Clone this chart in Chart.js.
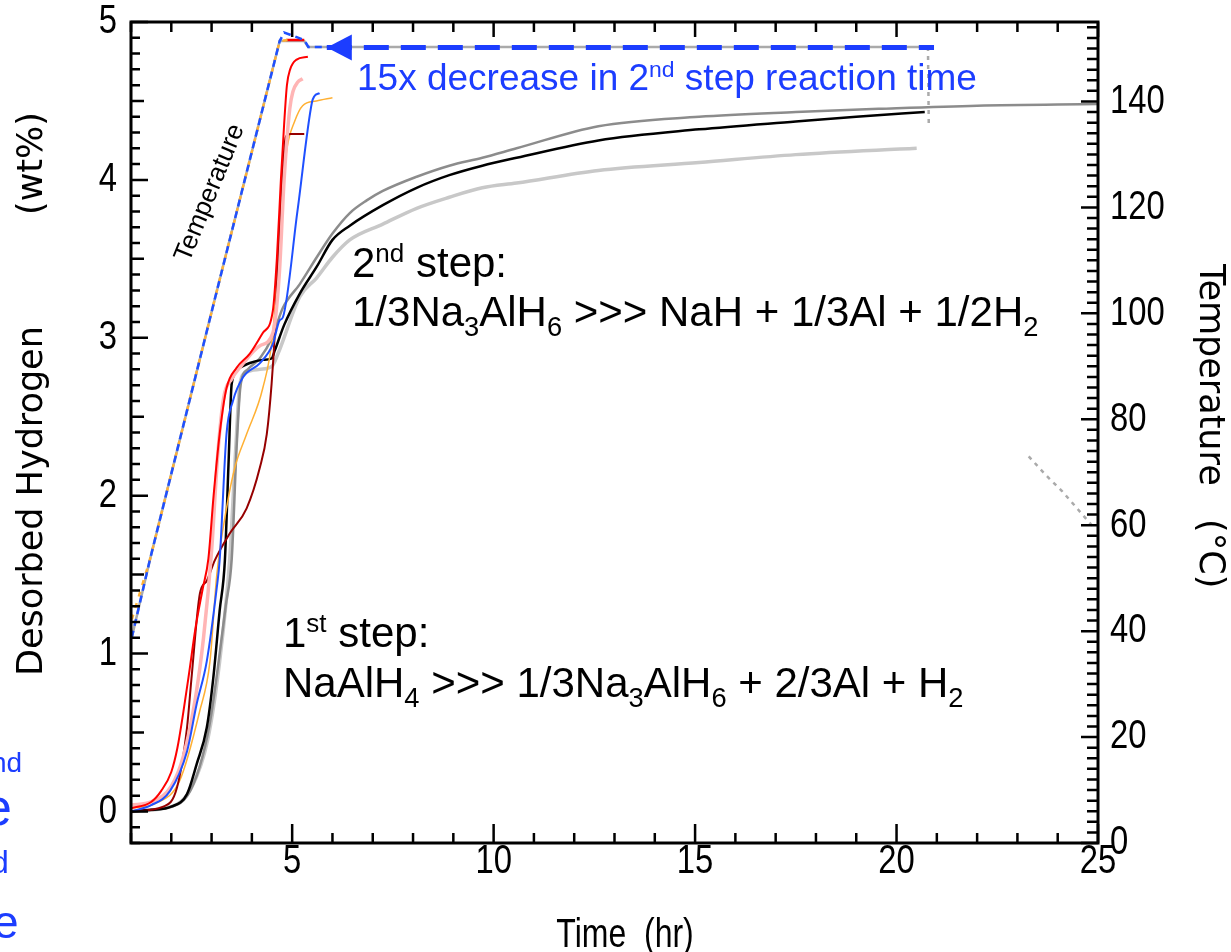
<!DOCTYPE html>
<html>
<head>
<meta charset="utf-8">
<script src="https://cdn.jsdelivr.net/npm/chart.js@4.4.1/dist/chart.umd.min.js"></script>
<style>
  html, body { margin: 0; padding: 0; background: #fff; }
  #chart { display: block; }
</style>
</head>
<body>
<canvas id="chart" width="1231" height="952"></canvas>
<script>
// axis tick labels
var timeTicks = [5, 10, 15, 20, 25];
var h2Ticks = [0, 1, 2, 3, 4, 5];
var tempTicks = [0, 20, 40, 60, 80, 100, 120, 140];

// desorbed hydrogen (wt%) vs time (hr), one pair of arrays per run
var blackTime = [1, 1.5, 2.0, 2.39, 2.63, 2.88, 3.04, 3.2, 3.33, 3.42, 3.5, 3.7, 3.95, 4.27, 4.49, 4.57, 4.8, 5.19, 5.61, 6.0, 6.43, 7.25, 8.09, 8.9, 9.72, 10.57, 12.6, 15.1, 17.5, 19.0, 20.7];
var blackH2 = [0.0, 0.01, 0.03, 0.11, 0.3, 0.53, 0.84, 1.27, 1.59, 2.2, 2.71, 2.81, 2.84, 2.86, 2.87, 2.92, 3.08, 3.28, 3.45, 3.62, 3.71, 3.84, 3.95, 4.03, 4.09, 4.14, 4.25, 4.32, 4.37, 4.4, 4.43];

var grayTime = [1, 2.0, 2.4, 2.7, 2.95, 3.15, 3.35, 3.5, 3.62, 3.72, 3.9, 4.2, 4.5, 4.77, 5.19, 5.61, 6.0, 6.43, 6.85, 7.25, 8.09, 8.9, 9.72, 10.57, 12.6, 15.1, 17.5, 19.56, 22.0, 25];
var grayH2 = [0.0, 0.03, 0.1, 0.28, 0.55, 0.9, 1.3, 1.6, 2.3, 2.7, 2.8, 2.87, 3.0, 3.19, 3.34, 3.51, 3.66, 3.79, 3.87, 3.93, 4.02, 4.09, 4.14, 4.2, 4.34, 4.4, 4.43, 4.45, 4.47, 4.48];

var lightTime = [1, 2.0, 2.5, 2.9, 3.2, 3.45, 3.6, 3.7, 3.85, 4.2, 4.5, 4.65, 5.19, 5.61, 6.0, 6.43, 7.25, 8.09, 8.9, 9.72, 10.57, 12.6, 15.1, 17.5, 20.5];
var lightH2 = [0.0, 0.03, 0.15, 0.45, 0.95, 1.6, 2.3, 2.7, 2.78, 2.8, 2.82, 2.9, 3.26, 3.38, 3.51, 3.62, 3.72, 3.82, 3.89, 3.95, 3.98, 4.06, 4.11, 4.16, 4.2];

var redTime = [1, 1.5, 1.75, 2.0, 2.15, 2.3, 2.45, 2.6, 2.78, 2.92, 3.05, 3.2, 3.37, 3.62, 3.95, 4.27, 4.52, 4.62, 4.72, 4.8, 4.87, 4.95, 5.1, 5.39];
var redH2 = [0.02, 0.06, 0.13, 0.25, 0.4, 0.63, 0.89, 1.16, 1.41, 1.6, 2.0, 2.39, 2.68, 2.81, 2.9, 3.03, 3.17, 3.5, 4.0, 4.35, 4.6, 4.7, 4.76, 4.78];

var pinkTime = [1, 1.5, 2.0, 2.3, 2.6, 2.8, 3.0, 3.15, 3.3, 3.5, 3.7, 4.2, 4.52, 4.68, 4.8, 4.94, 5.02, 5.14, 5.26];
var pinkH2 = [0.04, 0.06, 0.16, 0.35, 0.72, 1.1, 1.65, 2.25, 2.62, 2.74, 2.81, 2.95, 3.03, 3.4, 4.0, 4.45, 4.56, 4.62, 4.64];

var maroonTime = [1, 1.8, 2.14, 2.39, 2.5, 2.71, 2.88, 3.08, 3.45, 3.87, 4.2, 4.37, 4.49, 4.57, 4.65, 4.75, 4.84, 4.95, 5.3];
var maroonH2 = [0.0, 0.03, 0.15, 0.53, 0.84, 1.38, 1.46, 1.59, 1.76, 1.92, 2.18, 2.39, 2.71, 3.03, 3.5, 4.0, 4.27, 4.29, 4.29];

var orangeTime = [1, 1.6, 2.2, 2.7, 2.96, 3.13, 3.37, 3.58, 3.87, 4.27, 4.52, 4.62, 4.72, 4.87, 5.06, 5.26, 5.6, 6.0];
var orangeH2 = [0.02, 0.05, 0.19, 0.63, 0.95, 1.5, 1.92, 2.18, 2.39, 2.68, 3.03, 3.4, 3.85, 4.2, 4.37, 4.47, 4.5, 4.52];

var blueTime = [1, 1.5, 1.97, 2.39, 2.63, 2.88, 3.13, 3.2, 3.37, 3.53, 3.78, 4.2, 4.52, 4.69, 4.77, 5.13, 5.49, 5.55, 5.68];
var blueH2 = [0.0, 0.04, 0.13, 0.38, 0.68, 0.95, 1.42, 1.59, 2.39, 2.6, 2.75, 2.84, 2.96, 3.11, 3.13, 3.8, 4.49, 4.53, 4.55];

// furnace temperature (°C)
var grayTempTime = [1.02, 1.47, 3.08, 4.69, 5.3, 5.4, 20.78, 20.8, 21.5, 23.28, 23.7, 24.1, 24.5, 24.89];
var grayTemp = [38.8, 53.5, 102.7, 151.4, 151.4, 150.3, 150.3, 135.5, null, 73.0, 69.5, 66.5, 63.0, 59.6];
var blueTempTime = [1.02, 1.47, 3.08, 4.69, 4.8, 4.95, 5.3, 5.4, 5.9];
var blueTemp = [38.8, 53.5, 102.7, 151.4, 153.0, 152.6, 151.6, 150.3, 150.3];
var orangeTempTime = [1.02, 1.47, 3.08, 4.69, 4.9];
var orangeTemp = [42.2, 53.5, 102.7, 151.4, 151.6];
var redTempTime = [4.85, 5.3];
var redTemp = [151.6, 151.6];

// arrow along the 2nd step plateau
var arrowTime = [5.86, 20.93];
var arrowTemp = [150.2, 150.2];

var SANS = '"Liberation Sans", Arial, sans-serif';
var WIDE = '"DejaVu Sans", sans-serif';
var BLUE = '#1c3dff';
var SQUEEZE = 0.8;

function pts(ts, vs) {
    return ts.map(function (t, i) { return { x: t, y: vs[i] }; });
}

function h2Line(label, ts, vs, color, width) {
    return {
        label: label, data: pts(ts, vs), yAxisID: 'y',
        borderColor: color, borderWidth: width,
        pointRadius: 0, cubicInterpolationMode: 'monotone'
    };
}

function tempLine(label, ts, vs, color, width, dash) {
    return {
        label: label, data: pts(ts, vs), yAxisID: 'y2',
        borderColor: color, borderWidth: width, borderDash: dash || [],
        pointRadius: 0, tension: 0
    };
}

// rich text: parts are [text, 'sub' | 'sup' | '']
function drawRich(ctx, parts, x, y, size, color) {
    ctx.fillStyle = color;
    ctx.textAlign = 'left';
    ctx.textBaseline = 'alphabetic';
    parts.forEach(function (p) {
        var s = size, dy = 0;
        if (p[1] === 'sub') { s = size * 0.65; dy = size * 0.24; }
        if (p[1] === 'sup') { s = size * 0.62; dy = -size * 0.36; }
        ctx.font = s + 'px ' + SANS;
        ctx.fillText(p[0], x, y + dy);
        x += ctx.measureText(p[0]).width;
    });
}

// narrow axis lettering
function squeezed(ctx, text, x, y, align) {
    ctx.save();
    ctx.translate(x, y);
    ctx.scale(SQUEEZE, 1);
    ctx.textAlign = align;
    ctx.fillText(text, 0, 0);
    ctx.restore();
}

// box frame plus inward minor/major ticks on all four sides
var frameTicks = {
    id: 'frameTicks',
    afterDatasetsDraw: function (chart) {
        var ctx = chart.ctx, a = chart.chartArea;
        var sx = chart.scales.x, sy = chart.scales.y, st = chart.scales.y2;
        ctx.save();
        ctx.strokeStyle = '#000';
        ctx.lineWidth = 2.5;
        ctx.beginPath();
        for (var h = 1; h <= 25; h++) {
            var px = sx.getPixelForValue(h);
            var major = h % 5 === 0;
            ctx.moveTo(px, a.bottom); ctx.lineTo(px, a.bottom - (major ? 19 : 10));
            ctx.moveTo(px, a.top); ctx.lineTo(px, a.top + (major ? 15 : 10));
        }
        for (var i = -2; i <= 50; i++) {
            var py = sy.getPixelForValue(i / 10);
            var len = i % 10 === 0 ? 17 : (i % 5 === 0 ? 13 : 9);
            ctx.moveTo(a.left, py); ctx.lineTo(a.left + len, py);
        }
        for (var t = 0; t <= 154; t += 2) {
            var py2 = st.getPixelForValue(t);
            ctx.moveTo(a.right, py2); ctx.lineTo(a.right - (t % 20 === 0 ? 17 : 11), py2);
        }
        ctx.stroke();
        ctx.lineWidth = 3;
        ctx.strokeRect(a.left, a.top, a.right - a.left, a.bottom - a.top);

        // tick labels from each scale's ticks
        ctx.fillStyle = '#000';
        ctx.font = '41px ' + SANS;
        ctx.textBaseline = 'middle';
        sx.ticks.forEach(function (tk) {
            squeezed(ctx, String(tk.value), sx.getPixelForValue(tk.value), a.bottom + 19, 'center');
        });
        sy.ticks.forEach(function (tk) {
            squeezed(ctx, String(tk.value), a.left - 14, sy.getPixelForValue(tk.value), 'right');
        });
        st.ticks.forEach(function (tk) {
            squeezed(ctx, String(tk.value), a.right + 12, st.getPixelForValue(tk.value), 'left');
        });
        ctx.restore();
    }
};

// arrow head, reaction labels and axis titles
var notes = {
    id: 'notes',
    afterDraw: function (chart) {
        var ctx = chart.ctx;
        ctx.save();

        var head = chart.getDatasetMeta(0).data[0];
        ctx.fillStyle = BLUE;
        ctx.beginPath();
        ctx.moveTo(head.x, head.y);
        ctx.lineTo(head.x + 25, head.y - 13);
        ctx.lineTo(head.x + 25, head.y + 13);
        ctx.closePath();
        ctx.fill();

        drawRich(ctx, [['15x decrease in 2', ''], ['nd', 'sup'], [' step reaction time', '']], 357, 90, 37, BLUE);

        drawRich(ctx, [['2', ''], ['nd', 'sup'], [' step:', '']], 352, 277, 42, '#000');
        drawRich(ctx, [['1/3Na', ''], ['3', 'sub'], ['AlH', ''], ['6', 'sub'],
            [' >>> NaH + 1/3Al + 1/2H', ''], ['2', 'sub']], 352, 326, 42, '#000');
        drawRich(ctx, [['1', ''], ['st', 'sup'], [' step:', '']], 283, 647, 42, '#000');
        drawRich(ctx, [['NaAlH', ''], ['4', 'sub'], [' >>> 1/3Na', ''], ['3', 'sub'], ['AlH', ''], ['6', 'sub'],
            [' + 2/3Al + H', ''], ['2', 'sub']], 283, 697, 42, '#000');

        // clipped fragments at the left edge
        ctx.fillStyle = BLUE;
        ctx.textAlign = 'left';
        ctx.textBaseline = 'alphabetic';
        ctx.font = '28px ' + SANS; ctx.fillText('nd', -9, 772);
        ctx.font = '52px ' + SANS; ctx.fillText('e', -17, 825);
        ctx.font = '32px ' + SANS; ctx.fillText('d', -9, 873);
        ctx.font = '46px ' + SANS; ctx.fillText('e', -7, 938);

        ctx.fillStyle = '#000';
        ctx.textBaseline = 'middle';

        ctx.save();
        ctx.translate(210, 193);
        ctx.rotate(-67.8 * Math.PI / 180);
        ctx.textAlign = 'center';
        ctx.font = '26px ' + SANS;
        ctx.fillText('Temperature', 0, 0);
        ctx.restore();

        ctx.save();
        ctx.translate(33, 676);
        ctx.rotate(-Math.PI / 2);
        ctx.textAlign = 'left';
        ctx.font = '35px ' + WIDE;
        ctx.fillText('Desorbed Hydrogen          (wt%)', 0, 0);
        ctx.restore();

        ctx.save();
        ctx.translate(1209, 264);
        ctx.rotate(Math.PI / 2);
        ctx.textAlign = 'left';
        ctx.font = '35px ' + WIDE;
        ctx.fillText('Temperature   (\u00B0C)', 0, 0);
        ctx.restore();

        ctx.textBaseline = 'alphabetic';
        ctx.font = '40px ' + SANS;
        squeezed(ctx, 'Time  (hr)', 625, 947, 'center');

        ctx.restore();
    }
};

var ctx = document.getElementById('chart').getContext('2d');

var desorptionChart = new Chart(ctx, {
    type: 'line',
    data: {
        datasets: [
            {
                label: 'arrow', data: pts(arrowTime, arrowTemp), yAxisID: 'y2',
                borderColor: BLUE, borderWidth: 5, borderDash: [25, 12], pointRadius: 0
            },
            tempLine('T blue', blueTempTime, blueTemp, '#1f50ff', 2.5, [7, 5]),
            tempLine('T orange', orangeTempTime, orangeTemp, '#ffb033', 2.5, [5, 7]),
            tempLine('T red', redTempTime, redTemp, '#ff0000', 2.5),
            Object.assign(tempLine('T gray', grayTempTime, grayTemp, '#aaaaaa', 2.5), {
                spanGaps: false,
                segment: {
                    borderDash: function (c) { return c.p0.parsed.x > 20.7 ? [4, 5] : undefined; }
                }
            }),
            h2Line('blue', blueTime, blueH2, '#1f50ff', 2),
            h2Line('red', redTime, redH2, '#ff0000', 2),
            h2Line('pink', pinkTime, pinkH2, '#ffb5b5', 3.5),
            h2Line('maroon', maroonTime, maroonH2, '#960000', 2),
            h2Line('orange', orangeTime, orangeH2, '#ffb033', 1.5),
            h2Line('black', blackTime, blackH2, '#000000', 2.5),
            h2Line('gray', grayTime, grayH2, '#8c8c8c', 2.5),
            h2Line('light gray', lightTime, lightH2, '#c8c8c8', 3.5)
        ]
    },
    options: {
        responsive: false,
        animation: false,
        devicePixelRatio: 1,
        layout: { padding: { top: 22 }, autoPadding: false },
        plugins: { legend: { display: false }, tooltip: { enabled: false } },
        scales: {
            x: {
                type: 'linear', position: 'bottom', min: 1, max: 25,
                grid: { display: false, drawTicks: false }, border: { display: false },
                ticks: { display: false },
                afterBuildTicks: function (s) { s.ticks = timeTicks.map(function (v) { return { value: v }; }); },
                afterFit: function (s) { s.height = 109; }
            },
            y: {
                type: 'linear', position: 'left', min: -0.2, max: 5,
                grid: { display: false, drawTicks: false }, border: { display: false },
                ticks: { display: false },
                afterBuildTicks: function (s) { s.ticks = h2Ticks.map(function (v) { return { value: v }; }); },
                afterFit: function (s) { s.width = 131; }
            },
            y2: {
                type: 'linear', position: 'right', min: 0, max: 155,
                grid: { display: false, drawTicks: false }, border: { display: false },
                ticks: { display: false },
                afterBuildTicks: function (s) { s.ticks = tempTicks.map(function (v) { return { value: v }; }); },
                afterFit: function (s) { s.width = 133; }
            }
        }
    },
    plugins: [frameTicks, notes]
});
</script>
</body>
</html>
